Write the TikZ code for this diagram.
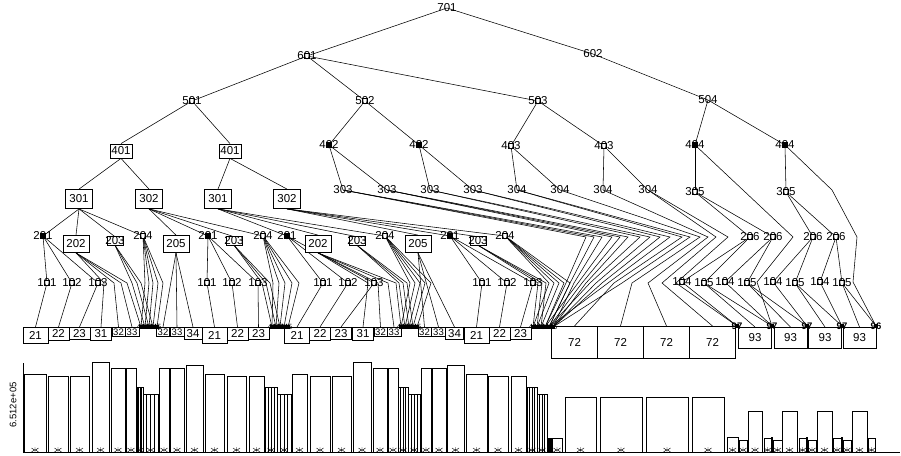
\documentclass[tikz,border=0pt]{standalone}
\usepackage{fontspec}
\setmainfont{Liberation Sans}
\pgfdeclarelayer{links}
\pgfsetlayers{links,main}
\newcommand{\lbfont}{\fontsize{11.5}{11.5}\selectfont}
\newcommand{\smfont}{\fontsize{9.5}{9.5}\selectfont}
\newcommand{\tnfont}{\fontsize{7.5}{7.5}\selectfont}
\tikzset{
  lbl/.style={inner sep=0pt, font=\lbfont},
  pt/.style={inner sep=0pt, minimum size=0pt, label={[lbl]center:#1}},
  mk/.style={draw, fill=white, line width=1pt, inner sep=0pt, minimum size=5.5pt, label={[lbl]center:#1}},
  mkf/.style={draw, fill=black, line width=0.6pt, inner sep=0pt, minimum size=4.5pt, label={[lbl]center:#1}},
  cl/.style={fill=black, inner sep=0pt, minimum size=3.5pt, label={[inner sep=0pt, font=\tnfont]center:#1}},
  k97/.style={fill=black, inner sep=0pt, minimum size=4pt, label={[inner sep=0pt, font=\smfont\bfseries]center:#1}},
  bx/.style={draw, fill=white, line width=0.8pt, inner sep=0pt, font=\lbfont},
  sz/.style 2 args={minimum width=#1pt, minimum height=#2pt},
  b4/.style={bx, sz={22}{14}},
  b3/.style={bx, sz={27}{19}},
  b2/.style={bx, sz={26}{17}},
  b203/.style={fill=white, inner sep=0pt, font=\lbfont},
  leaf/.style={bx, anchor=north},
  l21/.style={leaf, sz={25}{16}},
  l22/.style={leaf, sz={21}{13}},
  l23/.style={leaf, sz={21}{12}},
  l31/.style={leaf, sz={21}{13}},
  l32/.style={leaf, sz={13}{9}, font=\smfont},
  l33/.style={leaf, sz={14}{9}, font=\smfont},
  l34/.style={leaf, sz={18}{12}},
  l72/.style={leaf, sz={46}{32}},
  l93/.style={leaf, sz={33}{21}},
  link/.style={line width=0.55pt},
  barbox/.style={draw, line width=0.6pt, fill=white},
  tk/.pic={\draw[line width=0.45pt] (-3.5,-4) -- (0,-1.5) -- (3.5,-4) (-3.5,0) -- (0,-2.5) -- (3.5,0) (0,-5) -- (0,0);}
}

\begin{document}
\begin{tikzpicture}[x=1pt, y=-1pt]
    \useasboundingbox (0,0) rectangle (901,455);

    % Upper levels
    \node[pt=701] (n701) at (447,8) {};
    \node[mk=601] (n601) at (307,56) {};
    \node[pt=602] (n602) at (593,54) {};
    \node[mk=501] (n501) at (192,101) {};
    \node[mk=502] (n502) at (365,101) {};
    \node[mk=503] (n503) at (538,101) {};
    \node[pt=504] (n504) at (708,100) {};

    % Level 4
    \node[b4] (n401a) at (121,151) {401};
    \node[b4] (n401b) at (230,151) {401};
    \node[mkf=402] (n402a) at (329,145) {};
    \node[mkf=402] (n402b) at (419,145) {};
    \node[mk=403] (n403a) at (511,146) {};
    \node[mk=403] (n403b) at (604,146) {};
    \node[mkf=404] (n404a) at (695,145) {};
    \node[mkf=404] (n404b) at (785,145) {};

    % Level 3
    \node[b3] (n301a) at (79,199) {301};
    \node[b3] (n302a) at (149,199) {302};
    \node[b3] (n301b) at (218,199) {301};
    \node[b3] (n302b) at (287,199) {302};
    \foreach \n/\x in {a/343, b/387, c/430, d/473} \node[pt=303] (n303\n) at (\x,190) {};
    \foreach \n/\x in {a/517, b/560, c/603, d/648} \node[pt=304] (n304\n) at (\x,190) {};
    \node[mk=305] (n305a) at (695,192) {};
    \node[mk=305] (n305b) at (786,192) {};

    % Level 2
    \foreach \n/\x in {a/43, b/208, c/287, d/450} \node[mkf=201] (n201\n) at (\x,236) {};
    \node[b2] (n202a) at (76,244) {202};
    \node[b2] (n202b) at (318,244) {202};
    \foreach \n/\x in {a/115, b/234, c/357, d/478} {
        \node[b203] (n203\n) at (\x,241) {203};
        \draw[line width=0.8pt] ([shift={(-8,-4.5)}]n203\n.center) rectangle ([shift={(8,4.5)}]n203\n.center);
    }
    \foreach \n/\x in {a/143, b/263, c/385, d/505} \node[mk=204] (n204\n) at (\x,236) {};
    \node[b2] (n205a) at (176,244) {205};
    \node[b2] (n205b) at (418,244) {205};
    \foreach \n/\x in {a/750, b/773, c/813, d/836} \node[mk=206] (n206\n) at (\x,237) {};

    % Level 1
    \foreach \n/\x in {a/47, b/207, c/323, d/482} {
        \node[mk=101] (n101\n) at (\x,283) {};
        \node[mk=102] (n102\n) at (\x+25,283) {};
        \node[mk=103] (n103\n) at (\x+51,283) {};
    }
    \foreach \n/\x in {a/682, b/725, c/773, d/820} {
        \node[mk=104] (n104\n) at (\x,282) {};
        \node[mk=105] (n105\n) at (\x+22,283) {};
    }

    % Leaves
    \foreach \n/\x in {a/35.5, b/214.5, c/297, d/476.5} {
        \node[l21] (n21\n) at (\x,327) {21};
        \node[l22] (n22\n) at (\x+23,327) {22};
        \node[l23] (n23\n) at (\x+44,327) {23};
    }
    \foreach \n/\x in {a/101, c/363} {
        \node[l31] (n31\n) at (\x,327) {31};
        \node[l32] (n32\n) at (\x+17.5,327) {32};
        \node[l33] (n33\n) at (\x+31,327) {33};
    }
    \foreach \n/\m/\x in {b/a/163, d/b/424.5} {
        \node[l32] (n32\n) at (\x,327) {32};
        \node[l33] (n33\n) at (\x+14,327) {33};
        \node[l34] (n34\m) at (\x+30,327) {34};
    }
    \foreach \n/\x in {a/574.5, b/620.5, c/666.5, d/712.5} \node[l72] (n72\n) at (\x,326) {72};
    \foreach \n/\x in {a/755, b/790.5, c/825, d/859.5} \node[l93] (n93\n) at (\x,327) {93};
    \foreach \n/\x in {a/737, b/772, c/807, d/842} \node[k97=97] (n97\n) at (\x,326) {};
    \node[k97=96] (n96) at (876,326) {};

    % Clusters
    \foreach \g/\x in {A/141, B/272, C/401, D/533} {
        \foreach \k in {1,...,5} \node[cl=4\k] (c\g\k) at (\x+4*\k-4,327) {};
    }
    \node[cl=46] (cD6) at (553,327) {};

    \begin{pgfonlayer}{links}
        % Straight links
        \foreach \src/\dst in {n701/n601, n701/n602, n601/n501, n601/n502, n601/n503, n602/n504,
            n501/n401a.north, n501/n401b.north, n502/n402a, n502/n402b, n503/n403a, n503/n403b,
            n504/n404a, n504/n404b,
            n401a.south/n301a.north, n401a.south/n302a.north, n401b.south/n301b.north, n401b.south/n302b.north,
            n402a/n303a, n402a/n303b, n402b/n303c, n402b/n303d,
            n403a/n304a, n403a/n304b, n403b/n304c, n403b/n304d,
            n404a/n305a, n404b/n305b, n305a/n206a, n305a/n206b, n305b/n206c, n305b/n206d,
            n301a.south/n201a, n301a.south/n202a.north, n301a.south/n203a.north, n301a.south/n204a,
            n302a.south/n205a.north, n302a.south/n201b, n302a.south/n203b.north, n302a.south/n204b,
            n301b.south/n201c, n301b.south/n202b.north, n301b.south/n203c.north, n301b.south/n204c,
            n302b.south/n205b.north, n302b.south/n201d, n302b.south/n203d.north, n302b.south/n204d,
            n205a.south/n32b.north, n205a.south/n33b.north, n205a.south/n34a.north,
            n205b.south/n32d.north, n205b.south/n33d.north, n205b.south/n34b.north,
            n206a/n104a, n206a/n105a, n206b/n104b, n206b/n105b,
            n206c/n104c, n206c/n105c, n206d/n104d, n206d/n105d,
            n104a/n97a, n105a/n93a.north, n105a/n97b, n104b/n97b, n105b/n93b.north, n105b/n97c,
            n104c/n97c, n105c/n93c.north, n105c/n97d, n104d/n97d, n105d/n93d.north, n105d/n96}
            \draw[link] (\src) -- (\dst);
        \foreach \n in {a,b,c,d} {
            \draw[link] (n201\n) -- (n101\n) (n201\n) -- (n102\n) (n201\n) -- (n103\n);
            \draw[link] (n101\n) -- (n21\n.north) (n102\n) -- (n22\n.north) (n103\n) -- (n23\n.north);
        }

        % Links bent at level 1
        \foreach \src/\wx/\dst in {n202a.south/104/n31a.north, n202a.south/114/n32a.north,
            n202a.south/121/n33a.north, n202a.south/127/cA1,
            n203a.south/132/cA2, n203a.south/137/cA3, n203a.south/141/cA4,
            n204a/145/cA1, n204a/149/cA2, n204a/153/cA3, n204a/158/cA4, n204a/163/cA5,
            n203b.south/262/cB1, n203b.south/266/cB2, n203b.south/270/cB3,
            n204b/273/cB1, n204b/279/cB2, n204b/285/cB3, n204b/292/cB4, n204b/299/cB5,
            n202b.south/368/n31c.north, n202b.south/378/n32c.north,
            n202b.south/388/n33c.north, n202b.south/396/cC1,
            n203c.south/399/cC2, n203c.south/403/cC3, n203c.south/407/cC4,
            n204c/410/cC1, n204c/415/cC2, n204c/420/cC3, n204c/425/cC4, n204c/431/cC5,
            n203d.south/538/cD1, n203d.south/542/cD2, n203d.south/546/cD3,
            n204d/549/cD1, n204d/554/cD2, n204d/559/cD3, n204d/564/cD4, n204d/570/cD5}
            \draw[link] (\src) -- (\wx,283) -- (\dst);

        % Links bent at levels 2 and 1
        \foreach \src/\wa/\wb/\dst in {n303a/586/566/cD4, n303a/594/570/cD5, n303a/602/574/cD6,
            n303b/612/578/cD4, n303b/620/582/cD5, n303b/628/586/cD6,
            n303c/640/590/cD5, n303c/650/596/cD6, n303d/660/602/cD6, n303d/670/608/cD5,
            n304a/682/614/n72a.north, n304a/690/622/cD6,
            n304b/700/632/n72b.north, n304c/708/648/n72c.north,
            n304d/716/662/n72d.north, n304d/728/676/n97a}
            \draw[link] (\src) -- (\wa,237) -- (\wb,283) -- (\dst);
        \draw[link] (n404a) -- (793,237) -- (757,282) -- (n97b);
        \draw[link] (n404b) -- (832,190) -- (857,237) -- (853,282) -- (n96);
    \end{pgfonlayer}

    % Bar chart
    \draw[line width=0.6pt] (23,363) -- (23,452) -- (900,452);
    \node[rotate=90, font=\smfont] (ylab) at (13,405) {6.512e+05};
    \foreach \xa/\xb/\tp in {24/46/374, 48/68/376, 70/89/376, 92/109/362, 111/125/368, 126/136/368,
        159/169/368, 170/184/368, 186/203/365, 205/224/374, 227/246/376, 249/264/376,
        292/307/374, 310/330/376, 332/351/376, 353/371/362, 373/387/368, 388/398/368,
        421/431/368, 432/446/368, 447/464/365, 466/487/374, 488/508/376, 511/526/376,
        552/562/438, 565/596/397, 600/642/397, 646/688/397, 692/724/397,
        727/738/437, 739/747/440, 748/762/411, 764/771/438, 773/782/440, 782/797/411,
        799/806/438, 808/816/440, 817/832/411, 833/841/438, 843/851/440, 852/867/411, 868/875/438} {
        \draw[barbox] (\xa,452) rectangle (\xb,\tp);
        \pic at ({(\xa+\xb)/2},452) {tk};
    }
    \foreach \xa/\xb/\tp in {137/143/387, 143/158/394, 265/277/387, 277/291/394,
        398/408/387, 408/420/394, 527/537/387, 537/547/394} {
        \draw[barbox] (\xa,452) rectangle (\xb,\tp);
        \foreach \k in {0.25,0.5,0.75} \draw[line width=0.6pt] ({\xa+\k*(\xb-\xa)},\tp) -- ({\xa+\k*(\xb-\xa)},452);
        \pic at ({(\xa+\xb)/2},452) {tk};
    }
    \draw[barbox, fill=black] (547,452) rectangle (552,438);
    \foreach \x in {772,807,842} \draw[line width=2pt] (\x,437) -- (\x,452);
\end{tikzpicture}
\end{document}
